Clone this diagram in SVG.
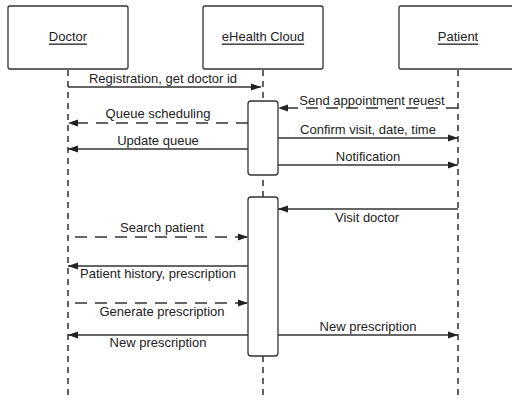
<svg xmlns="http://www.w3.org/2000/svg" width="512" height="401" viewBox="0 0 512 401">
<defs>
<marker id="ah" markerWidth="10" markerHeight="8" refX="10" refY="4" orient="auto" markerUnits="userSpaceOnUse">
<path d="M0,0.5 L10,4 L0,7.5 z" fill="#222"/>
</marker>
<style>
.box{fill:#fff;stroke:#333;stroke-width:1.3}
.act{fill:#fff;stroke:#333;stroke-width:1.3}
.life{stroke:#222;stroke-width:1.4;stroke-dasharray:6 5;fill:none}
.msg{stroke:#333;stroke-width:1.3;fill:none;marker-end:url(#ah)}
.dash{stroke-dasharray:12 8}
.lbl{font-family:"Liberation Sans",Arial,sans-serif;font-size:13px;fill:#222;text-anchor:middle;dominant-baseline:central}
.hd{text-decoration:underline}
</style>
</defs>
<rect width="512" height="401" fill="#fff"/>
<g id="lifelines">
<line class="life" x1="68" y1="70" x2="68" y2="400"/>
<line class="life" x1="263" y1="70" x2="263" y2="400"/>
<line class="life" x1="458" y1="70" x2="458" y2="400"/>
</g>
<g id="doctor">
<rect class="box" x="8" y="6" width="120" height="63" rx="2"/>
<text class="lbl hd" x="68" y="36">Doctor</text>
</g>
<g id="ehealth-cloud">
<rect class="box" x="203" y="6" width="120" height="63" rx="2"/>
<text class="lbl hd" x="263" y="36">eHealth Cloud</text>
</g>
<g id="patient">
<rect class="box" x="399" y="6" width="120" height="63" rx="2"/>
<text class="lbl hd" x="458" y="36">Patient</text>
</g>
<g id="activation1">
<rect class="act" x="248" y="101" width="30" height="74" rx="3"/>
</g>
<g id="activation2">
<rect class="act" x="248" y="197" width="30" height="159" rx="3"/>
</g>
<g id="connectors">
<line class="msg" x1="68" y1="87" x2="261" y2="87"/>
<line class="msg dash" x1="458" y1="108" x2="278" y2="108"/>
<line class="msg dash" x1="248" y1="123" x2="68" y2="123"/>
<line class="msg" x1="278" y1="138" x2="458" y2="138"/>
<line class="msg" x1="248" y1="149" x2="68" y2="149"/>
<line class="msg" x1="278" y1="165" x2="458" y2="165"/>
<line class="msg" x1="458" y1="209" x2="278" y2="209"/>
<line class="msg dash" x1="75" y1="237" x2="248" y2="237"/>
<line class="msg" x1="248" y1="266" x2="68" y2="266"/>
<line class="msg dash" x1="75" y1="303" x2="248" y2="303"/>
<line class="msg" x1="248" y1="335" x2="68" y2="335"/>
<line class="msg" x1="278" y1="335" x2="458" y2="335"/>
</g>
<g id="labels">
<text class="lbl" x="163" y="78">Registration, get doctor id</text>
<text class="lbl" x="372" y="100">Send appointment reuest</text>
<text class="lbl" x="158" y="113">Queue scheduling</text>
<text class="lbl" x="368" y="129">Confirm visit, date, time</text>
<text class="lbl" x="158" y="140">Update queue</text>
<text class="lbl" x="368" y="156">Notification</text>
<text class="lbl" x="367" y="217">Visit doctor</text>
<text class="lbl" x="162" y="227">Search patient</text>
<text class="lbl" x="158" y="273">Patient history, prescription</text>
<text class="lbl" x="162" y="311">Generate prescription</text>
<text class="lbl" x="158" y="342">New prescription</text>
<text class="lbl" x="368" y="326">New prescription</text>
</g>
</svg>
